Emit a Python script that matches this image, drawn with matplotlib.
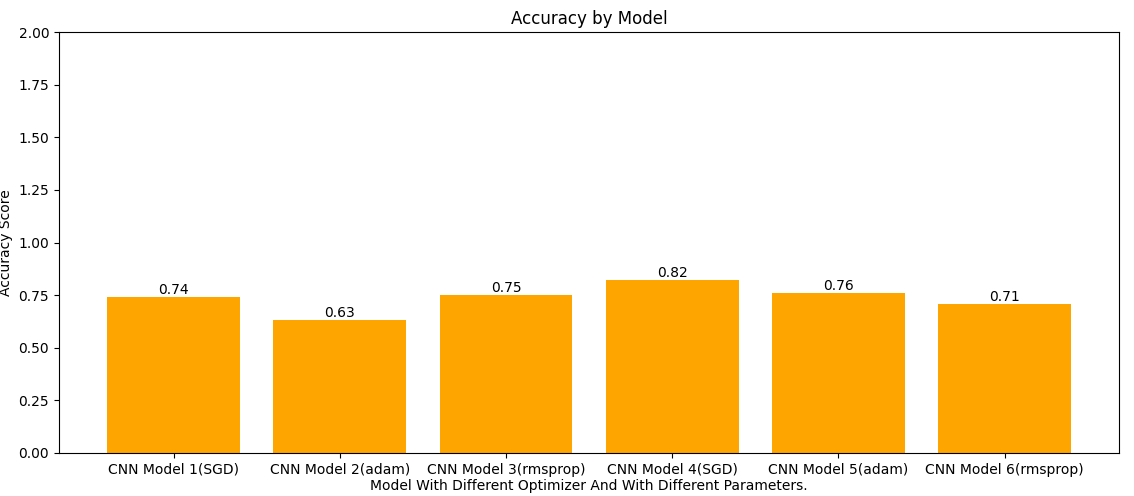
import matplotlib
matplotlib.use("Agg")
import matplotlib.pyplot as plt

models = ["CNN Model 1(SGD)", "CNN Model 2(adam)", "CNN Model 3(rmsprop)",
          "CNN Model 4(SGD)", "CNN Model 5(adam)", "CNN Model 6(rmsprop)"]
accuracy = [0.74, 0.63, 0.75, 0.82, 0.76, 0.71]

fig = plt.figure(figsize=(11.34, 4.96), dpi=100)
ax = fig.add_axes([0.052, 0.087, 0.935, 0.848])
bars = ax.bar(models, accuracy, color="orange")
for b, v in zip(bars, accuracy):
    ax.text(b.get_x() + b.get_width() / 2, v, f"{v:.2f}", ha="center", va="bottom")
ax.set_ylim(0, 2)
ax.set_title("Accuracy by Model")
ax.set_xlabel("Model With Different Optimizer And With Different Parameters.", labelpad=2)
ax.set_ylabel("Accuracy Score")
fig.savefig("out.png")
